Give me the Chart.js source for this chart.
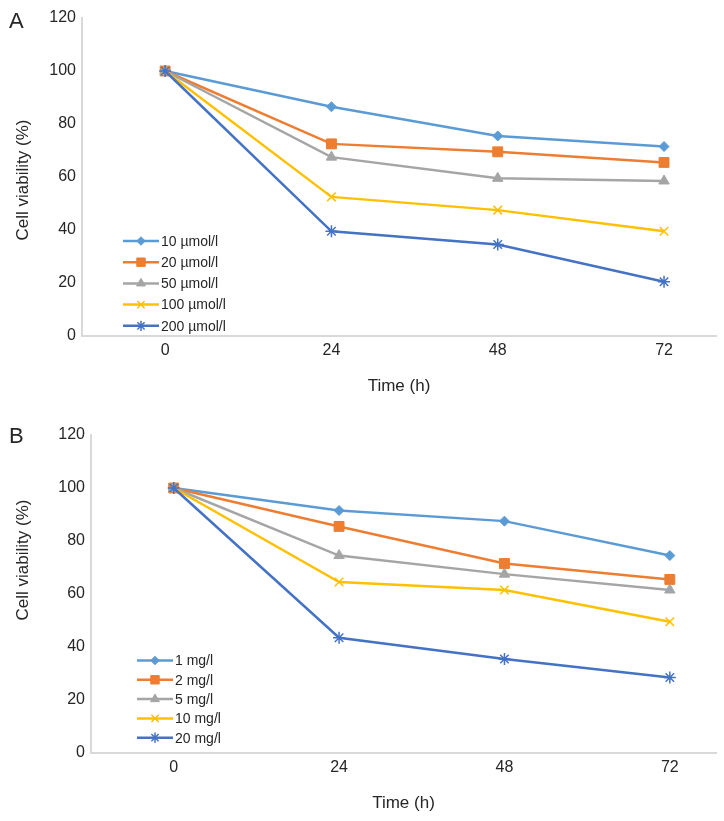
<!DOCTYPE html>
<html lang="en">
<head>
<meta charset="UTF-8">
<title>Cell viability</title>
<script src="https://cdn.jsdelivr.net/npm/chart.js@4.4.0/dist/chart.umd.min.js"></script>
<style>
  body { margin: 0; background: #fff; font-family: 'Liberation Sans', Arial, sans-serif; color: #262626; }
  .panel { position: relative; width: 724px; }
  .letter { position: absolute; left: 9px; font-size: 22px; line-height: 1; }
  .ytitle { position: absolute; left: 23px; font-size: 17px; white-space: nowrap; transform: translate(-50%, -50%) rotate(-90deg); }
  canvas { display: block; }
</style>
</head>
<body>
<div class="panel" style="height:410px">
  <canvas id="chartA" width="724" height="410"></canvas>
  <div class="letter" style="top:10px">A</div>
  <div class="ytitle" style="top:180px">Cell viability (%)</div>
</div>
<div class="panel" style="height:411px">
  <canvas id="chartB" width="724" height="411"></canvas>
  <div class="letter" style="top:15px">B</div>
  <div class="ytitle" style="top:150px">Cell viability (%)</div>
</div>
<script>
// time points (x axis ticks)
const hours = [0, 24, 48, 72];

// panel A
const labelsA = ['10 µmol/l', '20 µmol/l', '50 µmol/l', '100 µmol/l', '200 µmol/l'];
const a10 = [100, 86.5, 75.5, 71.5];
const a20 = [100, 72.5, 69.5, 65.5];
const a50 = [100, 67.5, 59.5, 58.5];
const a100 = [100, 52.5, 47.5, 39.5];
const a200 = [100, 39.5, 34.5, 20.5];

// panel B
const labelsB = ['1 mg/l', '2 mg/l', '5 mg/l', '10 mg/l', '20 mg/l'];
const b1 = [100, 91.5, 87.5, 74.5];
const b2 = [100, 85.5, 71.5, 65.5];
const b5 = [100, 74.5, 67.5, 61.5];
const b10 = [100, 64.5, 61.5, 49.5];
const b20 = [100, 43.5, 35.5, 28.5];

const colors = ['#5B9BD5', '#ED7D31', '#A5A5A5', '#FFC000', '#4472C4'];
const styles = ['rectRot', 'rect', 'triangle', 'crossRot', 'star'];
const radii = [5, 7, 6, 6, 6];
const FONT = "'Liberation Sans', Arial, sans-serif";
const TEXT = '#262626';

// legend drawn inside the plot: line + marker + label
const lineLegend = {
    id: 'lineLegend',
    afterDatasetsDraw(chart, args, opts) {
        const ctx = chart.ctx;
        ctx.save();
        chart.data.datasets.forEach((ds, i) => {
            const y = opts.top + i * opts.step;
            ctx.strokeStyle = ds.borderColor;
            ctx.lineWidth = ds.borderWidth;
            ctx.beginPath();
            ctx.moveTo(opts.left, y);
            ctx.lineTo(opts.left + opts.lineLen, y);
            ctx.stroke();
            ctx.fillStyle = ds.pointBackgroundColor;
            ctx.strokeStyle = ds.pointBorderColor;
            ctx.lineWidth = ds.pointBorderWidth;
            Chart.helpers.drawPoint(ctx, {
                pointStyle: ds.pointStyle,
                radius: ds.pointRadius * 0.85,
                rotation: 0,
                borderWidth: ds.pointBorderWidth
            }, opts.left + opts.lineLen / 2, y);
            ctx.fillStyle = TEXT;
            ctx.font = '14px ' + FONT;
            ctx.textBaseline = 'middle';
            ctx.textAlign = 'left';
            ctx.fillText(ds.label, opts.left + opts.lineLen + 2, y + 1);
        });
        ctx.restore();
    }
};

function makeChart(id, labels, series, cfg) {
    const datasets = series.map((vals, i) => ({
        label: labels[i],
        data: hours.map((h, k) => ({ x: h, y: vals[k] })),
        borderColor: colors[i],
        backgroundColor: colors[i],
        borderWidth: 2.5,
        tension: 0,
        pointStyle: styles[i],
        pointRadius: radii[i],
        pointBackgroundColor: colors[i],
        pointBorderColor: colors[i],
        pointBorderWidth: i >= 3 ? 1.5 : 1,
        clip: false,
        order: series.length - 1 - i
    }));

    return new Chart(document.getElementById(id), {
        type: 'line',
        data: { datasets },
        plugins: [lineLegend],
        options: {
            responsive: false,
            animation: false,
            layout: { padding: { top: cfg.top, right: 8, left: 0, bottom: 0 } },
            plugins: {
                legend: { display: false },
                tooltip: { enabled: false },
                lineLegend: cfg.legend
            },
            scales: {
                x: {
                    type: 'linear',
                    min: -12,
                    max: cfg.xMax,
                    afterBuildTicks: s => { s.ticks = hours.map(v => ({ value: v })); },
                    afterFit: s => { s.height = cfg.xHeight; },
                    grid: { display: false, drawTicks: false },
                    border: { display: true, color: '#d9d9d9', width: 2 },
                    ticks: { padding: cfg.xPad, color: TEXT, font: { family: FONT, size: 16 }, maxRotation: 0, autoSkip: false },
                    title: { display: true, text: 'Time (h)', color: TEXT, font: { family: FONT, size: 17 }, padding: { top: 0, bottom: cfg.titlePad } }
                },
                y: {
                    min: 0,
                    max: 120,
                    afterFit: s => { s.width = cfg.yWidth; },
                    grid: { display: false, drawTicks: false },
                    border: { display: true, color: '#d9d9d9', width: 2 },
                    ticks: { stepSize: 20, padding: 6, color: TEXT, font: { family: FONT, size: 16 } }
                }
            }
        }
    });
}

makeChart('chartA', labelsA, [a10, a20, a50, a100, a200], {
    top: 18, xMax: 79.5, xHeight: 74, xPad: 5, titlePad: 13, yWidth: 82,
    legend: { left: 123, lineLen: 36, top: 241, step: 21.2 }
});

makeChart('chartB', labelsB, [b1, b2, b5, b10, b20], {
    top: 25, xMax: 78.7, xHeight: 68, xPad: 5, titlePad: 7, yWidth: 91,
    legend: { left: 137, lineLen: 36, top: 250.5, step: 19.3 }
});
</script>
</body>
</html>
